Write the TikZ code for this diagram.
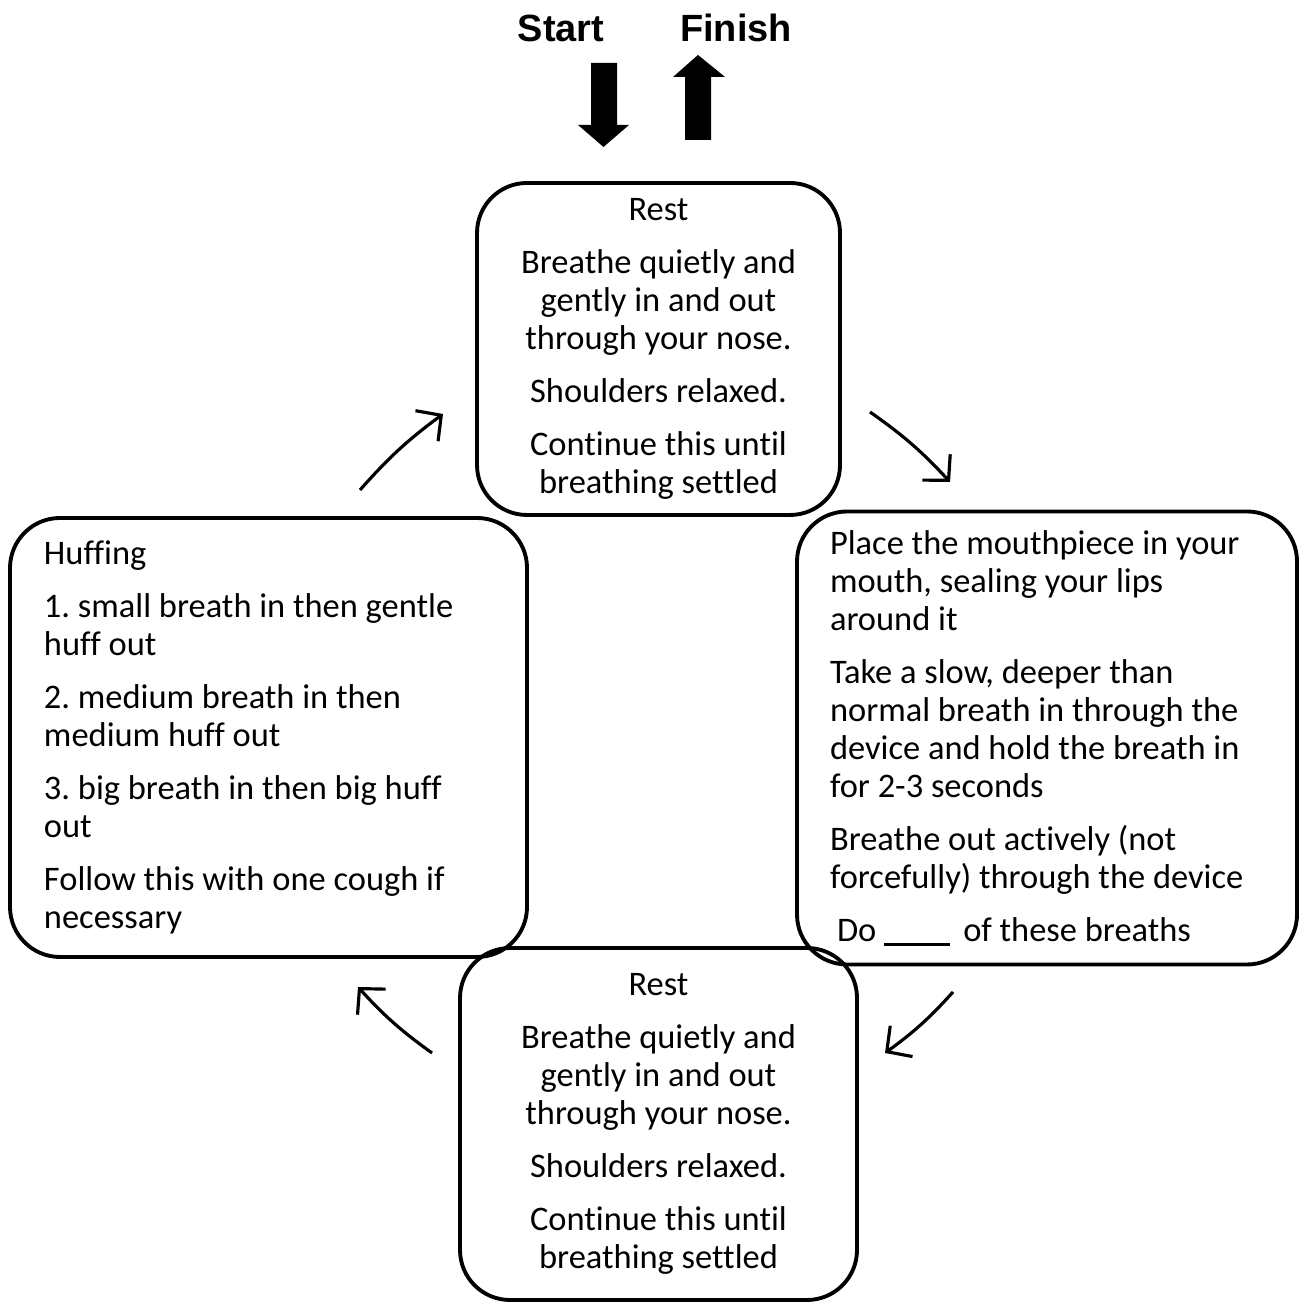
\documentclass[tikz,border=0pt]{standalone}
\usepackage{fontspec}
\setmainfont{Carlito}[Ligatures=NoCommon]
\newfontfamily\headfont{Liberation Sans}
\usetikzlibrary{arrows.meta}
\newcommand\boxfont{\fontsize{9.8}{10.8}\selectfont}
\frenchspacing

\begin{document}
\begin{tikzpicture}[
    box/.style={draw, line width=1.1pt, rounded corners=0.5cm, inner sep=0pt, font=\boxfont},
    cyc/.style={line width=0.9pt, -{Straight Barb[length=1.8mm,width=3.8mm]}, bend left=6},
    head/.style={font=\headfont\fontsize{10.8}{13}\selectfont\bfseries, anchor=base}
]
    \useasboundingbox (0,0) rectangle (13.03,13.03);

    % Start / Finish
    \node[head] (start) at (5.61,12.61) {Start};
    \node[head] (finish) at (7.36,12.61) {Finish};
    \fill (5.91,12.40) -- (6.17,12.40) -- (6.17,11.78) -- (6.29,11.78) -- (6.035,11.56)
        -- (5.78,11.78) -- (5.91,11.78) -- cycle;
    \fill (6.85,11.63) -- (7.11,11.63) -- (7.11,12.26) -- (7.25,12.26) -- (6.98,12.48)
        -- (6.73,12.26) -- (6.85,12.26) -- cycle;

    % Rest (top)
    \node[box, minimum width=3.63cm, minimum height=3.32cm, align=center] (rest1) at (6.585,9.54)
        {Rest\\[4.3pt]Breathe quietly and\\gently in and out\\through your nose.\\[4.3pt]Shoulders relaxed.\\[4.3pt]Continue this until\\breathing settled};

    % Breaths through the device
    \node[box, minimum width=5.00cm, minimum height=4.53cm, text width=4.34cm, align=flush left] (device) at (10.47,5.65)
        {Place the mouthpiece in your\\mouth, sealing your lips\\around it\\[4.3pt]Take a slow, deeper than\\normal breath in through the\\device and hold the breath in\\for 2-3 seconds\\[4.3pt]Breathe out actively (not\\forcefully) through the device\\[4.3pt]\hspace{2pt}Do \rule[-1.2pt]{0.66cm}{0.8pt}\hspace{1.5pt} of these breaths};

    % Rest (bottom)
    \node[box, minimum width=3.97cm, minimum height=3.52cm, align=center] (rest2) at (6.585,1.79)
        {Rest\\[4.3pt]Breathe quietly and\\gently in and out\\through your nose.\\[4.3pt]Shoulders relaxed.\\[4.3pt]Continue this until\\breathing settled};

    % Huffing
    \node[box, minimum width=5.17cm, minimum height=4.39cm, text width=4.49cm, align=flush left] (huff) at (2.685,5.655)
        {Huffing\\[4.3pt]1. small breath in then gentle\\huff out\\[4.3pt]2. medium breath in then\\medium huff out\\[4.3pt]3. big breath in then big huff\\out\\[4.3pt]Follow this with one cough if\\necessary};

    % cycle arrows
    \coordinate (c1a) at (8.70,8.91);
    \coordinate (c1b) at (9.50,8.21);
    \coordinate (c2a) at (9.53,3.11);
    \coordinate (c2b) at (8.85,2.50);
    \coordinate (c3a) at (4.32,2.50);
    \coordinate (c3b) at (3.58,3.16);
    \coordinate (c4a) at (3.60,8.13);
    \coordinate (c4b) at (4.43,8.89);
    \draw[cyc] (c1a) to (c1b);
    \draw[cyc] (c2a) to (c2b);
    \draw[cyc] (c3a) to (c3b);
    \draw[cyc] (c4a) to (c4b);
\end{tikzpicture}
\end{document}
